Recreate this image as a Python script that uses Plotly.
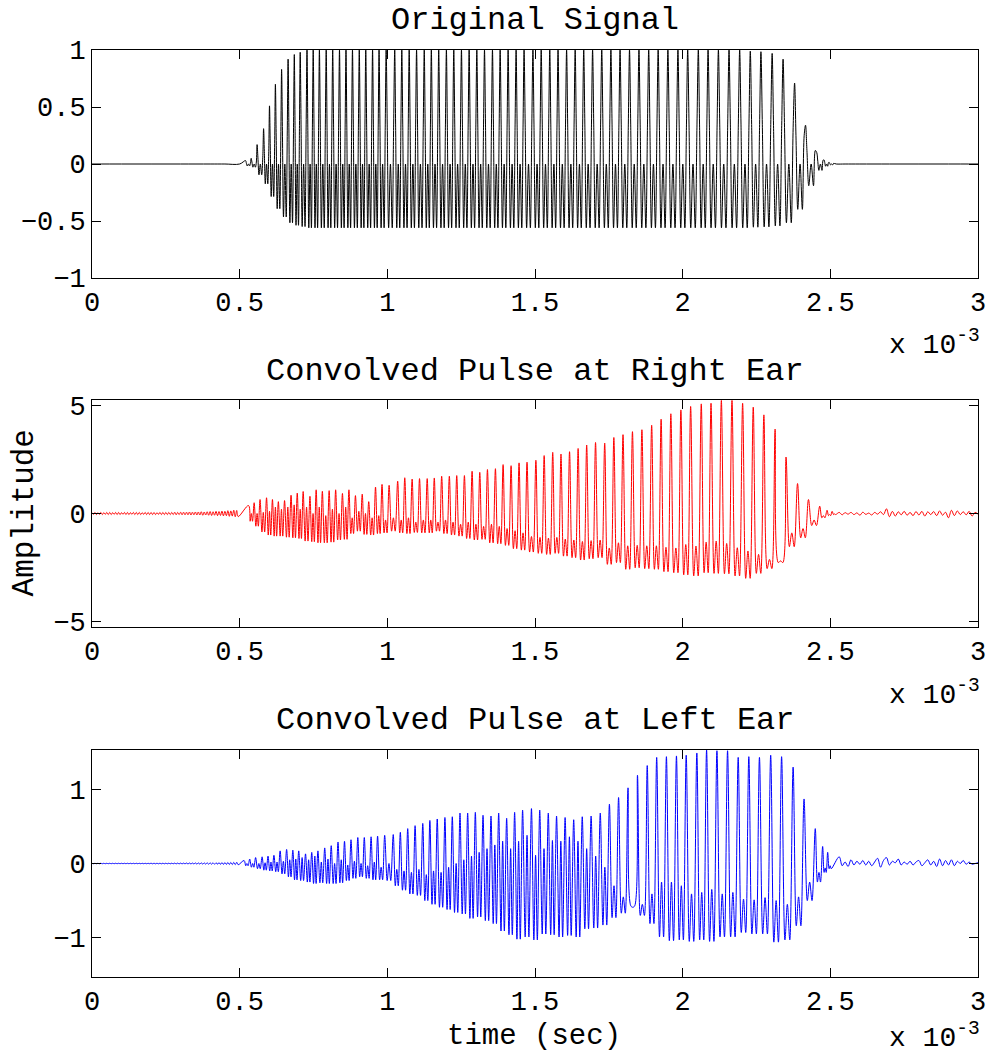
import plotly.graph_objects as go

# ---------------- data (time in ms; axis shows x 10^-3 s) ----------------
# peak time of every cycle of the original pulse
t_peak = [0.520, 0.539, 0.559, 0.581, 0.601, 0.621, 0.642, 0.664, 0.685, 0.705,
          0.728, 0.749, 0.770, 0.793, 0.815, 0.838, 0.860, 0.882, 0.905, 0.927,
          0.950, 0.972, 0.996, 1.025, 1.049, 1.074, 1.099, 1.125, 1.149, 1.174,
          1.200, 1.225, 1.251, 1.277, 1.303, 1.329, 1.356, 1.382, 1.409, 1.436,
          1.463, 1.493, 1.521, 1.550, 1.578, 1.607, 1.636, 1.665, 1.695, 1.726,
          1.757, 1.788, 1.820, 1.852, 1.885, 1.917, 1.950, 1.984, 2.017, 2.053,
          2.086, 2.121, 2.157, 2.193, 2.229, 2.265, 2.303, 2.340, 2.379, 2.416,
          2.454, 2.479, 2.496]

# silent stretches of the original signal (ms)
quiet_before = [0.0, 0.1, 0.2, 0.3, 0.4, 0.45, 0.5]
quiet_after = [2.52, 2.55, 2.6, 2.7, 2.8, 2.9, 3.0]

# original signal: peak height of each cycle and the shape of one cycle
orig_env = [0.03, 0.05, 0.17, 0.31, 0.51, 0.70, 0.83, 0.92, 0.96, 0.98,
            1.00, 1.00, 1.00, 1.00, 1.00, 1.00, 1.00, 1.00, 1.00, 1.00,
            1.00, 1.00, 1.00, 1.00, 1.00, 1.00, 1.00, 1.00, 1.00, 1.00,
            1.00, 1.00, 1.00, 1.00, 1.00, 1.00, 1.00, 1.00, 1.00, 1.00,
            1.00, 1.00, 1.00, 1.00, 1.00, 1.00, 1.00, 1.00, 1.00, 1.00,
            1.00, 1.00, 1.00, 1.00, 1.00, 1.00, 1.00, 1.00, 1.00, 1.00,
            1.00, 1.00, 1.00, 1.00, 0.99, 0.985, 0.97, 0.92, 0.71, 0.34,
            0.10, 0.035, 0.015]
orig_phase = [0.0, 0.125, 0.29, 0.5, 0.71, 0.875]
orig_value = [1.0, 0.35, -0.56, 0.0, -0.56, 0.35]

# right ear (red): per-cycle peak, trough and mid-trough level
red_shift = 0.010
red_hi = [0.37, 0.50, 0.65, 0.73, 0.65, 0.55, 0.60, 0.85, 0.95, 1.02,
          0.80, 1.10, 1.03, 1.06, 1.10, 0.93, 1.10, 0.83, 0.90, 0.55,
          1.23, 1.35, 1.31, 1.50, 1.66, 1.60, 1.62, 1.62, 1.65, 1.73,
          1.73, 1.76, 1.76, 1.96, 1.91, 2.04, 2.08, 2.27, 2.22, 2.35,
          2.38, 2.47, 2.69, 2.84, 2.76, 2.87, 3.02, 3.18, 3.30, 3.27,
          3.53, 3.66, 3.80, 3.89, 4.10, 4.38, 4.63, 4.81, 4.97, 5.09,
          5.12, 5.25, 5.25, 5.12, 4.94, 4.58, 3.92, 2.62, 1.39, 0.65,
          0.34, 0.15, 0.10]
red_lo = [-0.36, -0.59, -0.86, -1.00, -1.05, -1.05, -1.10, -1.13, -1.16, -1.28,
          -1.31, -1.36, -1.36, -1.33, -1.23, -1.20, -0.93, -0.82, -0.97, -1.00,
          -0.93, -0.90, -0.82, -0.90, -0.93, -0.88, -0.90, -0.90, -0.82, -0.93,
          -1.00, -1.05, -1.16, -1.23, -1.20, -1.36, -1.40, -1.48, -1.63, -1.70,
          -1.79, -1.85, -1.90, -1.85, -1.98, -2.05, -2.16, -2.10, -2.05, -2.36,
          -2.28, -2.59, -2.52, -2.56, -2.59, -2.70, -2.75, -2.85, -2.90, -2.75,
          -2.78, -2.80, -2.90, -3.01, -2.78, -2.56, -2.28, -1.54, -1.13, -0.56,
          -0.20, -0.10, -0.05]
red_mid = [0.00, 0.00, 0.05, 0.10, 0.30, 0.20, 0.30, 0.40, 0.20, 0.30,
           0.00, 0.30, -0.10, 0.20, 0.00, 0.30, -0.20, 0.10, 0.00, -0.20,
           -0.10, -0.30, -0.20, -0.30, -0.20, -0.40, -0.30, -0.30, -0.40, -0.30,
           -0.40, -0.50, -0.40, -0.50, -0.60, -0.50, -0.60, -0.70, -0.80, -0.90,
           -1.07, -1.11, -1.14, -1.11, -1.19, -1.23, -1.30, -1.26, -1.23, -1.60,
           -1.36, -1.50, -1.48, -1.50, -1.50, -1.57, -1.60, -1.44, -1.51, -1.33,
           -1.28, -1.39, -1.59, -1.74, -1.90, -2.13, -2.20, -0.90, -0.70, -0.30,
           -0.10, -0.05, -0.02]
# small ripple before the pulse (amplitude per 0.01 ms cycle, t = 0 .. 0.5 ms)
red_pre_amp = [0.04, 0.05, 0.04, 0.05, 0.04, 0.05, 0.05, 0.04, 0.05, 0.05,
               0.04, 0.05, 0.05, 0.04, 0.05, 0.05, 0.05, 0.04, 0.05, 0.05,
               0.05, 0.05, 0.04, 0.05, 0.05, 0.05, 0.05, 0.05, 0.06, 0.05,
               0.06, 0.06, 0.06, 0.07, 0.06, 0.07, 0.07, 0.08, 0.07, 0.08,
               0.09, 0.08, 0.10, 0.09, 0.11, 0.10, 0.13, 0.12, 0.15, 0.14]
# residual after the pulse (every 0.01 ms from 2.53 ms)
red_tail = [0.05, -0.06, 0.04, -0.03, 0.05, -0.05, 0.03, -0.08, 0.06, -0.04,
            0.02, -0.07, 0.05, -0.03, 0.08, -0.05, 0.22, -0.15, 0.10, -0.12,
            0.08, -0.06, 0.10, -0.08, 0.05, -0.10, 0.09, -0.07, 0.10, -0.12,
            0.08, -0.05, 0.09, -0.10, 0.12, -0.08, 0.06, -0.20, 0.15, -0.10,
            0.12, -0.05, 0.08, -0.06, 0.10, -0.12, 0.05, -0.03]

# left ear (blue)
blue_shift = -0.005
blue_hi = [0.04, 0.06, 0.08, 0.09, 0.10, 0.11, 0.17, 0.19, 0.18, 0.17,
           0.13, 0.15, 0.17, 0.21, 0.24, 0.29, 0.30, 0.32, 0.35, 0.35,
           0.36, 0.37, 0.38, 0.39, 0.42, 0.47, 0.51, 0.54, 0.58, 0.60,
           0.62, 0.63, 0.68, 0.68, 0.69, 0.65, 0.64, 0.68, 0.61, 0.69,
           0.72, 0.74, 0.72, 0.68, 0.64, 0.62, 0.59, 0.63, 0.64, 0.68,
           0.80, 0.89, 1.02, 1.19, 1.32, 1.43, 1.44, 1.45, 1.46, 1.49,
           1.53, 1.52, 1.52, 1.43, 1.44, 1.43, 1.46, 1.44, 1.30, 0.87,
           0.47, 0.23, 0.15]
blue_lo = [-0.03, -0.05, -0.07, -0.09, -0.10, -0.11, -0.14, -0.18, -0.22, -0.23,
           -0.25, -0.27, -0.26, -0.27, -0.27, -0.26, -0.23, -0.20, -0.18, -0.20,
           -0.22, -0.22, -0.23, -0.30, -0.36, -0.41, -0.43, -0.50, -0.55, -0.59,
           -0.62, -0.66, -0.68, -0.74, -0.72, -0.77, -0.81, -0.91, -0.96, -1.02,
           -0.99, -1.03, -0.95, -0.96, -0.99, -0.97, -0.99, -0.88, -0.87, -0.83,
           -0.73, -0.67, -0.57, -0.70, -0.81, -0.99, -1.04, -1.03, -1.05, -1.03,
           -1.05, -0.99, -0.99, -0.93, -0.95, -0.95, -1.06, -1.03, -0.84, -0.50,
           -0.25, -0.12, -0.07]
blue_mid = [0.00, 0.00, 0.00, 0.01, 0.02, 0.02, 0.03, 0.05, 0.06,
            0.08, 0.05, 0.10, 0.02, 0.06, 0.00, 0.05, -0.02, 0.03, 0.00,
            -0.03, 0.02, -0.05, 0.00, -0.08,
            -0.10, -0.12, -0.08, -0.15, -0.10, -0.12, -0.05, 0.00, 0.05, 0.10, 0.15,
            0.20, 0.25, 0.30, 0.20, 0.30, 0.38, 0.11, 0.20, 0.31, 0.30,
            0.36, 0.30, 0.20, 0.10, -0.05,
            -0.30, -0.45, -0.59, -0.55, -0.41, -0.25, -0.25, -0.30, -0.41, -0.39,
            -0.35, -0.41, -0.39, -0.48, -0.49, -0.46, -0.50, -0.55,
            -0.45, -0.25, -0.12, -0.06, -0.03]
blue_pre_amp = [0.003, 0.003, 0.003, 0.003, 0.003, 0.003, 0.003, 0.003, 0.003, 0.003,
                0.003, 0.003, 0.003, 0.003, 0.003, 0.003, 0.003, 0.003, 0.003, 0.003,
                0.004, 0.004, 0.004, 0.004, 0.004, 0.004, 0.004, 0.004, 0.005, 0.005,
                0.005, 0.005, 0.006, 0.006, 0.006, 0.007, 0.007, 0.008, 0.008, 0.009,
                0.009, 0.010, 0.010, 0.011, 0.012, 0.012, 0.013, 0.014, 0.015, 0.016]
blue_tail = [0.09, -0.03, 0.02, -0.04, 0.05, -0.02, 0.03, -0.01, 0.04, -0.02,
             0.03, -0.03, 0.02, 0.07, -0.05, 0.04, 0.08, -0.02, 0.03, 0.01,
             0.06, -0.02, 0.02, -0.01, 0.03, -0.02, 0.02, 0.04, -0.03, 0.01,
             0.05, -0.02, 0.03, -0.04, 0.06, -0.03, 0.04, -0.02, 0.05, -0.03,
             0.03, 0.00, 0.04, -0.01, 0.02, -0.01, 0.00, 0.01]

x_ticks = [0, 0.5, 1, 1.5, 2, 2.5, 3]

# ---------------- assemble polylines from the read values ----------------
periods = [t_peak[i + 1] - t_peak[i] for i in range(len(t_peak) - 1)]
periods.append(periods[-1])

ox = list(quiet_before)
oy = [0.0 for _ in quiet_before]
for i, tp in enumerate(t_peak):
    for ph, v in zip(orig_phase, orig_value):
        ox.append(tp + ph * periods[i])
        oy.append(v * orig_env[i])
ox += quiet_after
oy += [0.0 for _ in quiet_after]

conv_phase = [0.0, 0.29, 0.5, 0.71]


def conv_series(shift, hi, lo, mid, pre_amp, tail, tail_start):
    xs, ys = [], []
    for k, a in enumerate(pre_amp):
        xs += [0.01 * k, 0.01 * k + 0.005]
        ys += [a, -a]
    for i, tp in enumerate(t_peak):
        for ph, v in zip(conv_phase, (hi[i], lo[i], mid[i], lo[i])):
            xs.append(tp + shift + ph * periods[i])
            ys.append(v)
    for k, v in enumerate(tail):
        xs.append(tail_start + 0.01 * k)
        ys.append(v)
    return xs, ys


rx, ry = conv_series(red_shift, red_hi, red_lo, red_mid, red_pre_amp, red_tail, 2.53)
bx, by = conv_series(blue_shift, blue_hi, blue_lo, blue_mid, blue_pre_amp, blue_tail, 2.53)

# ---------------- figure ----------------
FONT = "Liberation Mono"
fig = go.Figure()
fig.add_trace(go.Scatter(x=ox, y=oy, mode="lines", line=dict(color="black", width=1, shape="spline"),
                         xaxis="x", yaxis="y", showlegend=False, hoverinfo="skip"))
fig.add_trace(go.Scatter(x=rx, y=ry, mode="lines", line=dict(color="red", width=1, shape="spline"),
                         xaxis="x2", yaxis="y2", showlegend=False, hoverinfo="skip"))
fig.add_trace(go.Scatter(x=bx, y=by, mode="lines", line=dict(color="blue", width=1, shape="spline"),
                         xaxis="x3", yaxis="y3", showlegend=False, hoverinfo="skip"))

W, H = 998, 1057
L, R, T, B = 92, 14, 50, 80
ph_ = H - T - B


def py(pix):
    return (H - B - pix) / ph_


def pxp(pix):
    return (pix - L) / (W - L - R)


common = dict(showline=True, linecolor="black", linewidth=1, mirror="ticks",
              ticks="inside", ticklen=9, tickcolor="black", tickwidth=1,
              showgrid=False, zeroline=False,
              tickfont=dict(family=FONT, size=27, color="black"))

xax = dict(common, range=[0, 3], tickvals=x_ticks, ticktext=[str(v) for v in x_ticks])
fig.update_layout(
    width=W, height=H,
    margin=dict(l=L, r=R, t=T, b=B),
    paper_bgcolor="white", plot_bgcolor="white",
    xaxis=dict(xax, domain=[0, 1], anchor="y"),
    xaxis2=dict(xax, domain=[0, 1], anchor="y2"),
    xaxis3=dict(xax, domain=[0, 1], anchor="y3"),
    yaxis=dict(common, domain=[py(278), py(50)], range=[-1, 1],
               tickvals=[-1, -0.5, 0, 0.5, 1], anchor="x"),
    yaxis2=dict(common, domain=[py(627), py(400)], range=[-5.27, 5.27],
                tickvals=[-5, 0, 5], anchor="x2"),
    yaxis3=dict(common, domain=[py(977), py(750)], range=[-1.53, 1.53],
                tickvals=[-1, 0, 1], anchor="x3"),
)

titles = [("Original Signal", 21), ("Convolved Pulse at Right Ear", 371),
          ("Convolved Pulse at Left Ear", 720)]
ann = []
for txt, yy in titles:
    ann.append(dict(text=txt, x=0.5, y=py(yy), xref="paper", yref="paper",
                    showarrow=False, xanchor="center", yanchor="middle",
                    font=dict(family=FONT, size=32, color="black")))
for yy in (343, 693, 1036):
    ann.append(dict(text="x 10<sup>-3</sup>", x=pxp(988), y=py(yy), xref="paper", yref="paper",
                    showarrow=False, xanchor="right", yanchor="middle",
                    font=dict(family=FONT, size=28, color="black")))
ann.append(dict(text="Amplitude", x=pxp(24), y=py(513), xref="paper", yref="paper",
                showarrow=False, textangle=-90, xanchor="center", yanchor="middle",
                font=dict(family=FONT, size=31, color="black")))
ann.append(dict(text="time (sec)", x=pxp(537), y=py(1036), xref="paper", yref="paper",
                showarrow=False, xanchor="center", yanchor="middle",
                font=dict(family=FONT, size=29, color="black")))
fig.update_layout(annotations=ann)

fig.write_html("out.html")
